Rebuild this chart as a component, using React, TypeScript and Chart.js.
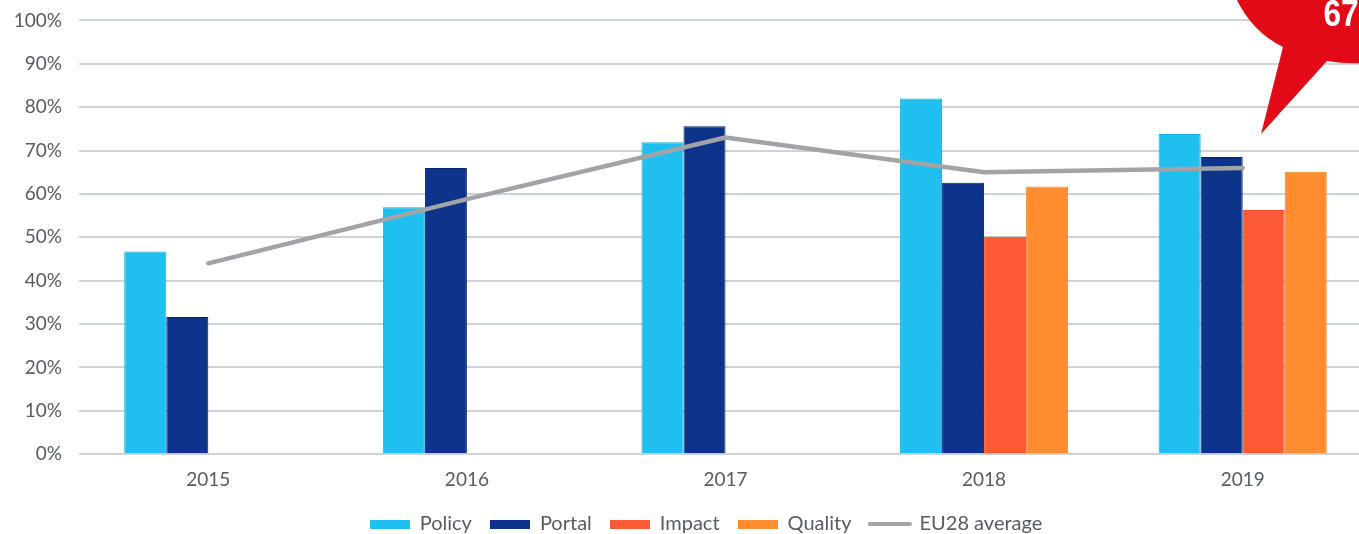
import React, { useEffect, useRef } from "react";
import { Chart, registerables } from "chart.js";

Chart.register(...registerables);

const years = ["2015", "2016", "2017", "2018", "2019"];
const policy = [46.7, 56.9, 71.9, 82, 73.8];
const portal = [31.6, 66, 75.6, 62.6, 68.5];
const impact = [null, null, null, 50.1, 56.3];
const quality = [null, null, null, 61.7, 65.1];
const eu28 = [44, 58.8, 73, 65, 66];
const calloutText = "67";

const FONT = "Lato";
const TEXT = "#565c62";
const CANVAS_SHIFT = 8;

function swatch(w: number, h: number, fill: string, round: boolean) {
  const c = document.createElement("canvas");
  c.width = w;
  c.height = h;
  const g = c.getContext("2d")!;
  g.fillStyle = fill;
  if (round) {
    g.beginPath();
    g.roundRect(0, 0, w, h, h / 2);
    g.fill();
  } else g.fillRect(0, 0, w, h);
  return c;
}

const callout = {
  id: "callout",
  afterDraw(chart: any) {
    const g = chart.ctx;
    g.save();
    g.translate(0, CANVAS_SHIFT);
    g.fillStyle = "#e30a17";
    g.beginPath();
    g.moveTo(1236, -2);
    g.quadraticCurveTo(1252, 32, 1283, 47);
    g.lineTo(1261, 134);
    g.lineTo(1327, 61);
    g.quadraticCurveTo(1345, 64, 1362, 63);
    g.lineTo(1362, -2);
    g.closePath();
    g.fill();
    g.translate(1341, 26);
    g.scale(0.88, 1);
    g.fillStyle = "#ffffff";
    g.font = "bold 36px 'Liberation Sans'";
    g.textAlign = "center";
    g.textBaseline = "alphabetic";
    g.fillText(calloutText, 0, 0);
    g.restore();
  },
};

export default function App() {
  const ref = useRef<HTMLCanvasElement>(null);
  useEffect(() => {
    const bar = (label: string, data: any[], fill: string, border: string) => ({
      type: "bar" as const,
      label,
      data,
      backgroundColor: fill,
      borderColor: border,
      borderWidth: 1,
      order: 1,
      pointStyle: swatch(40, 9, fill, false),
    });
    const chart = new Chart(ref.current!, {
      data: {
        labels: years,
        datasets: [
          bar("Policy", policy, "#1fc0f0", "#14b0dd"),
          bar("Portal", portal, "#0d348a", "#03226f"),
          bar("Impact", impact, "#ff5a36", "#f04a28"),
          bar("Quality", quality, "#ff8c2e", "#f08020"),
          {
            type: "line" as const,
            label: "EU28 average",
            data: eu28,
            borderColor: "#a1a3a6",
            borderWidth: 4.5,
            borderCapStyle: "round",
            borderJoinStyle: "round",
            pointRadius: 0,
            tension: 0,
            order: 0,
            pointStyle: swatch(44, 4, "#a1a3a6", true),
          } as any,
        ],
      },
      options: {
        animation: false,
        responsive: false,
        layout: { padding: { top: 2.5, right: 0, left: 0, bottom: 0 } },
        datasets: { bar: { barPercentage: 1, categoryPercentage: 0.65 } },
        plugins: {
          tooltip: { enabled: false },
          legend: {
            position: "bottom",
            labels: {
              usePointStyle: true,
              pointStyleWidth: 40,
              boxHeight: 9,
              padding: 18,
              color: TEXT,
              font: { family: FONT, size: 20 },
              generateLabels(c: any) {
                return c.data.datasets.map((d: any, i: number) => ({
                  text: d.label,
                  pointStyle: d.pointStyle,
                  datasetIndex: i,
                  fontColor: TEXT,
                  lineWidth: 0,
                  fillStyle: "transparent",
                  strokeStyle: "transparent",
                }));
              },
            },
          },
        },
        scales: {
          x: {
            grid: { display: false },
            border: { display: false },
            afterFit(s: any) {
              s.height -= 1;
            },
            ticks: { color: TEXT, font: { family: FONT, size: 19 }, padding: 6, maxRotation: 0 },
          },
          y: {
            min: 0,
            max: 100,
            afterFit(s: any) {
              s.width = 79;
            },
            grid: { color: "#cdd3d8", lineWidth: 2, drawTicks: false },
            border: { display: false },
            ticks: {
              stepSize: 10,
              padding: 17,
              color: TEXT,
              font: { family: FONT, size: 19 },
              callback: (v: any) => v + "%",
            },
          },
          gutter: {
            type: "linear",
            position: "right",
            display: true,
            afterFit(s: any) {
              s.width = 40;
            },
            grid: { display: false },
            border: { display: false },
            ticks: { display: false },
          },
        },
      },
      plugins: [callout],
    } as any);
    return () => chart.destroy();
  }, []);
  return (
    <div style={{ position: "fixed", left: 0, top: 0, width: 1359, height: 534, overflow: "hidden", background: "#fff" }}>
      <canvas ref={ref} width={1412} height={552} style={{ display: "block", marginTop: -CANVAS_SHIFT }} />
    </div>
  );
}
